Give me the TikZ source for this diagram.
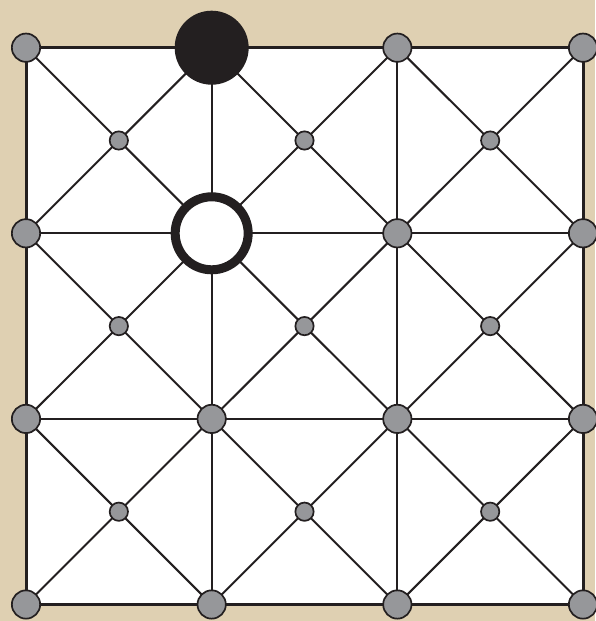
\documentclass[tikz,border=0pt]{standalone}
\definecolor{BoardSand}{HTML}{DFD0B2}
\definecolor{BoardInk}{HTML}{231F20}
\definecolor{BoardGray}{HTML}{96979A}
\tikzset{
  line/.style={draw=BoardInk,line width=2pt},
  frame/.style={draw=BoardInk,line width=3pt},
  spot/.style={circle,draw=BoardInk,fill=BoardGray,line width=1.7pt,inner sep=0pt,minimum size=28.3pt},
  smallspot/.style={spot,minimum size=18.3pt},
  blackstone/.style={circle,fill=BoardInk,inner sep=0pt,minimum size=74pt},
  whitestone/.style={circle,draw=BoardInk,fill=white,line width=9pt,inner sep=0pt,minimum size=73pt}
}

\begin{document}
\begin{tikzpicture}[x=1pt,y=-1pt]
  \fill[BoardSand] (0,0) rectangle (595,621); \useasboundingbox (0,0) rectangle (595,621);
  \foreach \i in {0,...,3} \foreach \j in {0,...,3} \coordinate (p\i\j) at ({26+185.67*\i},{47.7+185.6*\j});
  \foreach \i in {0,1,2} \foreach \j in {0,1,2} \coordinate (m\i\j) at ({26+185.67*(\i+0.5)},{47.7+185.6*(\j+0.5)});
  \fill[white] (p00) rectangle (p33);
  % grid and diagonals
  \foreach \k in {1,2} {\draw[line] (p0\k) -- (p3\k); \draw[line] (p\k0) -- (p\k3);}
  \foreach \i/\ii in {0/1,1/2,2/3} \foreach \j/\jj in {0/1,1/2,2/3} {
    \draw[line] (p\i\j) -- (m\i\j) -- (p\ii\jj); \draw[line] (p\ii\j) -- (m\i\j) -- (p\i\jj);}
  \draw[frame] (p00) rectangle (p33);
  % points
  \foreach \i/\j in {0/0,2/0,3/0,0/1,2/1,3/1,0/2,1/2,2/2,3/2,0/3,1/3,2/3,3/3} \node[spot] (s\i\j) at (p\i\j) {};
  \foreach \i in {0,1,2} \foreach \j in {0,1,2} \node[smallspot] (c\i\j) at (m\i\j) {};
  \node[blackstone] (black) at (p10) {};
  \node[whitestone] (white) at (p11) {};
\end{tikzpicture}
\end{document}
